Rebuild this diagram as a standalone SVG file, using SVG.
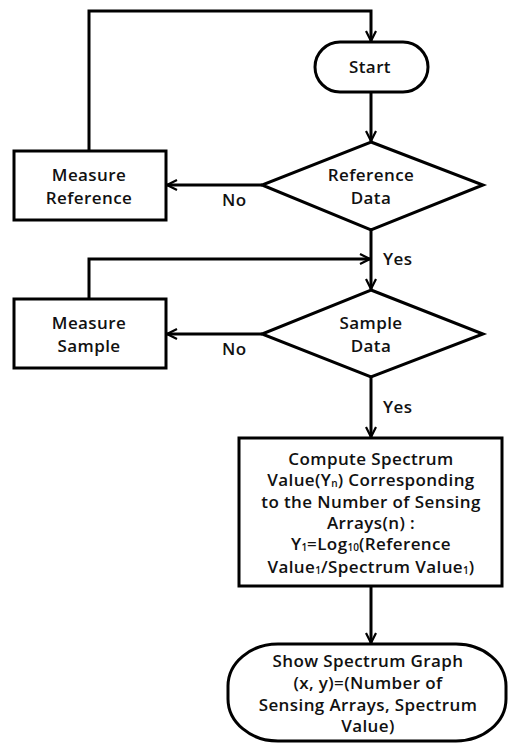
<svg xmlns="http://www.w3.org/2000/svg" width="511" height="745" viewBox="0 0 511 745">
<defs>
<marker id="arr" viewBox="0 0 12 12" refX="11" refY="6" markerWidth="12" markerHeight="12" markerUnits="userSpaceOnUse" orient="auto">
<path d="M1,1 L11,6 L1,11" fill="none" stroke="#000" stroke-width="2.2"/>
</marker>
<style>
.s{fill:#fff;stroke:#000;stroke-width:3}
.c{fill:none;stroke:#000;stroke-width:3;marker-end:url(#arr)}
text{font-family:"Open Sans","Noto Sans","DejaVu Sans",sans-serif;font-weight:600;font-size:17px;letter-spacing:0.4px;fill:#111}
.m{text-anchor:middle}
.sub{font-size:10px;letter-spacing:0}
</style>
</defs>
<rect width="511" height="745" fill="#fff"/>
<g id="connectors">
<path class="c" d="M89,151 V11 H371 V41"/>
<path class="c" d="M371,92 V141"/>
<path class="c" d="M262,185 H167"/>
<path class="c" d="M371,230 V289"/>
<path class="c" d="M89,299 V259 H370"/>
<path class="c" d="M262,334 H167"/>
<path class="c" d="M371,377 V437"/>
<path class="c" d="M371,586 V643"/>
</g>
<g id="labels">
<text x="222" y="206">No</text>
<text x="222" y="355">No</text>
<text x="383" y="265">Yes</text>
<text x="383" y="413">Yes</text>
</g>
<g id="start">
<rect class="s" x="315" y="42" width="113" height="50" rx="25"/>
<text class="m" x="370" y="73">Start</text>
</g>
<g id="refdata">
<polygon class="s" points="371,142 483,185 371,230 262,185"/>
<text class="m" x="371" y="181">Reference</text>
<text class="m" x="371" y="204">Data</text>
</g>
<g id="measureref">
<rect class="s" x="14" y="151" width="152" height="69"/>
<text class="m" x="89" y="181">Measure</text>
<text class="m" x="89" y="204">Reference</text>
</g>
<g id="sampledata">
<polygon class="s" points="371,290 483,334 371,377 262,334"/>
<text class="m" x="371" y="329">Sample</text>
<text class="m" x="371" y="352">Data</text>
</g>
<g id="measuresample">
<rect class="s" x="14" y="299" width="152" height="69"/>
<text class="m" x="89" y="329">Measure</text>
<text class="m" x="89" y="352">Sample</text>
</g>
<g id="compute">
<rect class="s" x="239" y="438" width="263" height="148"/>
<text class="m" x="371" y="465">Compute Spectrum</text>
<text class="m" x="371" y="486">Value(Y<tspan class="sub" dy="1">n</tspan><tspan dy="-1">) Corresponding</tspan></text>
<text class="m" x="371" y="508">to the Number of Sensing</text>
<text class="m" x="371" y="529">Arrays(n) :</text>
<text class="m" x="371" y="550">Y<tspan class="sub" dy="1">1</tspan><tspan dy="-1">=Log</tspan><tspan class="sub" dy="1">10</tspan><tspan dy="-1">(Reference</tspan></text>
<text class="m" x="371" y="573">Value<tspan class="sub" dy="1">1</tspan><tspan dy="-1">/Spectrum Value</tspan><tspan class="sub" dy="1">1</tspan><tspan dy="-1">)</tspan></text>
</g>
<g id="show">
<rect class="s" x="228" y="644" width="278" height="97" rx="50" ry="42"/>
<text class="m" x="368" y="667">Show Spectrum Graph</text>
<text class="m" x="368" y="689">(x, y)=(Number of</text>
<text class="m" x="368" y="711">Sensing Arrays, Spectrum</text>
<text class="m" x="368" y="732">Value)</text>
</g>
</svg>
